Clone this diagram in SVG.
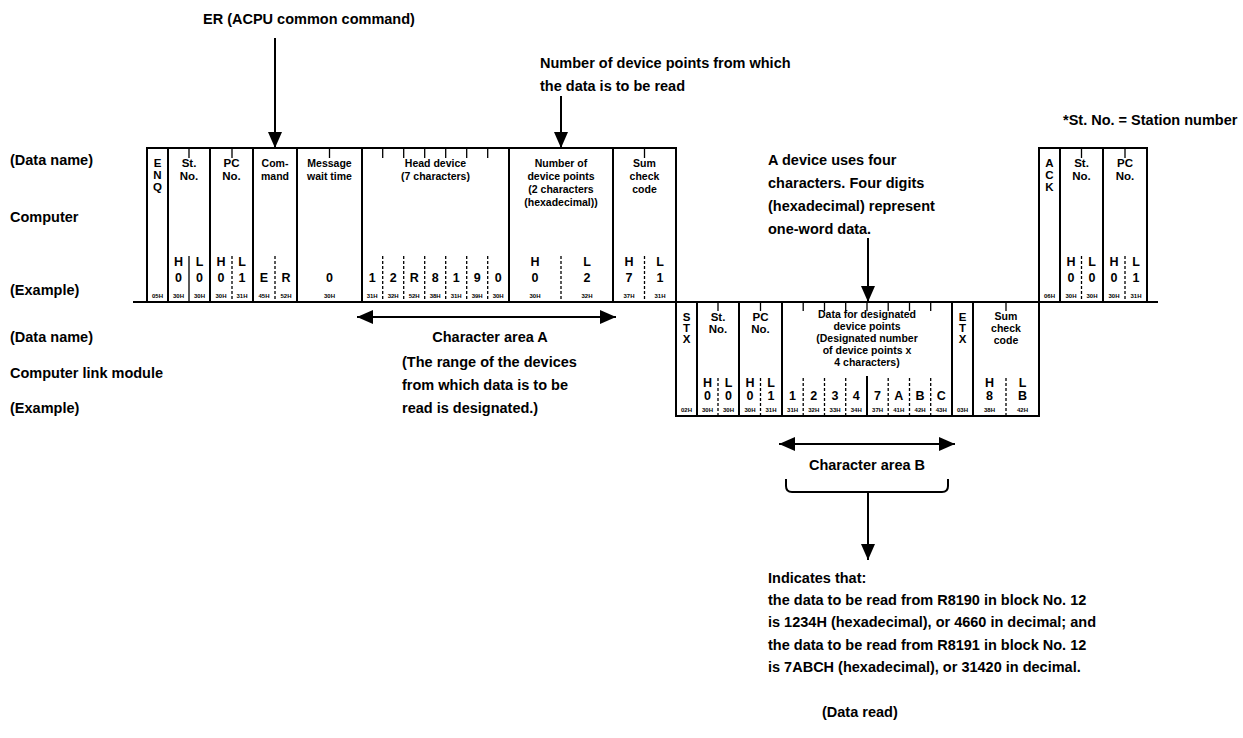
<svg xmlns="http://www.w3.org/2000/svg" width="1243" height="738" viewBox="0 0 1243 738">
<defs>
<marker id="ah" markerUnits="userSpaceOnUse" markerWidth="16" markerHeight="14" viewBox="0 0 16 14" refX="16" refY="7" orient="auto-start-reverse"><path d="M0,0 L16,7 L0,14 z" fill="#000"/></marker>
<style>
.t{font-family:"Liberation Sans",Arial,sans-serif;font-weight:bold;font-size:14.5px;fill:#000}
.h{font-family:"Liberation Sans",Arial,sans-serif;font-weight:bold;font-size:10.5px;fill:#000;text-anchor:middle}
.v{font-family:"Liberation Sans",Arial,sans-serif;font-weight:bold;font-size:11.5px;fill:#000;text-anchor:middle}
.c{font-family:"Liberation Sans",Arial,sans-serif;font-weight:bold;font-size:12.5px;fill:#000;text-anchor:middle}
.x{font-family:"Liberation Sans",Arial,sans-serif;font-weight:bold;font-size:6px;fill:#000;text-anchor:middle}
.m{text-anchor:middle}
.b{stroke:#000;stroke-width:2;fill:none}
.s{stroke:#000;stroke-width:1.3;fill:none}
.d{stroke:#000;stroke-width:1.3;stroke-dasharray:3 2;fill:none}
.a{stroke:#000;stroke-width:2;fill:none;marker-end:url(#ah)}
.a2{stroke:#000;stroke-width:2;fill:none;marker-end:url(#ah);marker-start:url(#ah)}
</style>
</defs>
<rect width="1243" height="738" fill="#fff"/>

<g id="labels">
<text class="t" x="10" y="165">(Data name)</text>
<text class="t" x="10" y="222">Computer</text>
<text class="t" x="10" y="295">(Example)</text>
<text class="t" x="10" y="342">(Data name)</text>
<text class="t" x="10" y="378">Computer link module</text>
<text class="t" x="10" y="413">(Example)</text>
<text class="t" x="203" y="24">ER (ACPU common command)</text>
<text class="t" x="540" y="68">Number of device points from which</text>
<text class="t" x="540" y="91">the data is to be read</text>
<text class="t" x="1063" y="125">*St. No. = Station number</text>
<text class="t" x="768" y="165">A device uses four</text>
<text class="t" x="768" y="188">characters.  Four digits</text>
<text class="t" x="768" y="211">(hexadecimal) represent</text>
<text class="t" x="768" y="234">one-word data.</text>
<text class="t m" x="490" y="342">Character area A</text>
<text class="t" x="402" y="367">(The range of the devices</text>
<text class="t" x="402" y="390">from which data is to be</text>
<text class="t" x="402" y="413">read is designated.)</text>
<text class="t m" x="867" y="470">Character area B</text>
<text class="t" x="768" y="583">Indicates that:</text>
<text class="t" x="768" y="605">the data to be read from R8190 in block No. 12</text>
<text class="t" x="768" y="627">is 1234H (hexadecimal), or 4660 in decimal; and</text>
<text class="t" x="768" y="650">the data to be read from R8191 in block No. 12</text>
<text class="t" x="768" y="672">is 7ABCH (hexadecimal), or 31420 in decimal.</text>
<text class="t" x="822" y="717">(Data read)</text>
</g>

<g id="computer-frame">
<path class="b" d="M147,302 V148 H676 V302 M168,148 V302 M210,148 V302 M253,148 V302 M297,148 V302 M362,148 V302 M509,148 V302 M613,148 V302"/>
<path class="s" d="M189,148 V158 M189,256 V302 M232,148 V158 M329.5,148 V158 M382.7,148 V158 M403.7,148 V158 M424.7,148 V158 M445.7,148 V158 M466.7,148 V158 M487.7,148 V158 M644.5,148 V158"/>
<path class="d" d="M232,256 V302 M275,256 V302 M382.7,256 V302 M403.7,256 V302 M424.7,256 V302 M445.7,256 V302 M466.7,256 V302 M487.7,256 V302 M561,256 V302 M644.5,256 V302"/>
<text class="v" x="157.5" y="167">E</text><text class="v" x="157.5" y="179">N</text><text class="v" x="157.5" y="191">Q</text>
<text class="v" x="189" y="167">St.</text><text class="v" x="189" y="180">No.</text>
<text class="v" x="231.5" y="167">PC</text><text class="v" x="231.5" y="180">No.</text>
<text class="h" x="275" y="167">Com-</text><text class="h" x="275" y="180">mand</text>
<text class="h" x="329.5" y="167">Message</text><text class="h" x="329.5" y="180">wait time</text>
<text class="h" x="435.5" y="167">Head device</text><text class="h" x="435.5" y="180">(7 characters)</text>
<text class="h" x="561" y="167">Number of</text><text class="h" x="561" y="180">device points</text><text class="h" x="561" y="193">(2 characters</text><text class="h" x="561" y="206">(hexadecimal))</text>
<text class="h" x="644.5" y="167">Sum</text><text class="h" x="644.5" y="180">check</text><text class="h" x="644.5" y="193">code</text>
<text class="c" x="178.5" y="266">H</text><text class="c" x="199.5" y="266">L</text>
<text class="c" x="221" y="266">H</text><text class="c" x="242" y="266">L</text>
<text class="c" x="535" y="266">H</text><text class="c" x="587" y="266">L</text>
<text class="c" x="629" y="266">H</text><text class="c" x="660" y="266">L</text>
<text class="c" x="178.5" y="282">0</text><text class="c" x="199.5" y="282">0</text>
<text class="c" x="221" y="282">0</text><text class="c" x="242" y="282">1</text>
<text class="c" x="264" y="282">E</text><text class="c" x="286" y="282">R</text>
<text class="c" x="329.5" y="282">0</text>
<text class="c" x="372.2" y="282">1</text><text class="c" x="393.2" y="282">2</text><text class="c" x="414.2" y="282">R</text><text class="c" x="435.2" y="282">8</text><text class="c" x="456.2" y="282">1</text><text class="c" x="477.2" y="282">9</text><text class="c" x="498.2" y="282">0</text>
<text class="c" x="535" y="282">0</text><text class="c" x="587" y="282">2</text>
<text class="c" x="629" y="282">7</text><text class="c" x="660" y="282">1</text>
<text class="x" x="157.5" y="298">05H</text>
<text class="x" x="178.5" y="298">30H</text><text class="x" x="199.5" y="298">30H</text>
<text class="x" x="221" y="298">30H</text><text class="x" x="242" y="298">31H</text>
<text class="x" x="264" y="298">45H</text><text class="x" x="286" y="298">52H</text>
<text class="x" x="329.5" y="298">30H</text>
<text class="x" x="372.2" y="298">31H</text><text class="x" x="393.2" y="298">32H</text><text class="x" x="414.2" y="298">52H</text><text class="x" x="435.2" y="298">38H</text><text class="x" x="456.2" y="298">31H</text><text class="x" x="477.2" y="298">39H</text><text class="x" x="498.2" y="298">30H</text>
<text class="x" x="535" y="298">30H</text><text class="x" x="587" y="298">32H</text>
<text class="x" x="629" y="298">37H</text><text class="x" x="660" y="298">31H</text>
</g>

<g id="ack-frame">
<path class="b" d="M1039,302 V148 H1147 V302 M1060,148 V302 M1103,148 V302"/>
<path class="s" d="M1081.5,148 V158 M1125,148 V158"/>
<path class="d" d="M1081.5,256 V302 M1125,256 V302"/>
<text class="v" x="1049.5" y="167">A</text><text class="v" x="1049.5" y="179">C</text><text class="v" x="1049.5" y="191">K</text>
<text class="v" x="1081.5" y="167">St.</text><text class="v" x="1081.5" y="180">No.</text>
<text class="v" x="1125" y="167">PC</text><text class="v" x="1125" y="180">No.</text>
<text class="c" x="1071" y="266">H</text><text class="c" x="1092" y="266">L</text>
<text class="c" x="1114" y="266">H</text><text class="c" x="1136" y="266">L</text>
<text class="c" x="1071" y="282">0</text><text class="c" x="1092" y="282">0</text>
<text class="c" x="1114" y="282">0</text><text class="c" x="1136" y="282">1</text>
<text class="x" x="1049.5" y="298">06H</text>
<text class="x" x="1071" y="298">30H</text><text class="x" x="1092" y="298">30H</text>
<text class="x" x="1114" y="298">30H</text><text class="x" x="1136" y="298">31H</text>
</g>

<g id="module-frame">
<path class="b" d="M676,302 V416 H1039 V302 M697,302 V416 M739,302 V416 M782,302 V416 M952,302 V416 M973,302 V416 M867,376 V416"/>
<path class="s" d="M718,302 V311 M760.5,302 V311 M803.2,302 V311 M824.5,302 V311 M845.7,302 V311 M867,302 V311 M888.2,302 V311 M909.5,302 V311 M930.7,302 V311 M1006,302 V311"/>
<path class="d" d="M718,378 V416 M760.5,378 V416 M803.2,378 V416 M824.5,378 V416 M845.7,378 V416 M888.2,378 V416 M909.5,378 V416 M930.7,378 V416 M1006,378 V416"/>
<text class="v" x="686.5" y="321">S</text><text class="v" x="686.5" y="332">T</text><text class="v" x="686.5" y="343">X</text>
<text class="v" x="718" y="321">St.</text><text class="v" x="718" y="333">No.</text>
<text class="v" x="760.5" y="321">PC</text><text class="v" x="760.5" y="333">No.</text>
<text class="h" x="867" y="318">Data for designated</text><text class="h" x="867" y="330">device points</text><text class="h" x="867" y="342">(Designated number</text><text class="h" x="867" y="354">of device points x</text><text class="h" x="867" y="366">4 characters)</text>
<text class="v" x="962.5" y="321">E</text><text class="v" x="962.5" y="332">T</text><text class="v" x="962.5" y="343">X</text>
<text class="h" x="1006" y="320">Sum</text><text class="h" x="1006" y="332">check</text><text class="h" x="1006" y="344">code</text>
<text class="c" x="707.5" y="387">H</text><text class="c" x="728.5" y="387">L</text>
<text class="c" x="750" y="387">H</text><text class="c" x="771" y="387">L</text>
<text class="c" x="989.5" y="387">H</text><text class="c" x="1022.5" y="387">L</text>
<text class="c" x="707.5" y="400">0</text><text class="c" x="728.5" y="400">0</text>
<text class="c" x="750" y="400">0</text><text class="c" x="771" y="400">1</text>
<text class="c" x="792.6" y="400">1</text><text class="c" x="813.8" y="400">2</text><text class="c" x="835.1" y="400">3</text><text class="c" x="856.3" y="400">4</text><text class="c" x="877.6" y="400">7</text><text class="c" x="898.8" y="400">A</text><text class="c" x="920.1" y="400">B</text><text class="c" x="941.3" y="400">C</text>
<text class="c" x="989.5" y="400">8</text><text class="c" x="1022.5" y="400">B</text>
<text class="x" x="686.5" y="412">02H</text>
<text class="x" x="707.5" y="412">30H</text><text class="x" x="728.5" y="412">30H</text>
<text class="x" x="750" y="412">30H</text><text class="x" x="771" y="412">31H</text>
<text class="x" x="792.6" y="412">31H</text><text class="x" x="813.8" y="412">32H</text><text class="x" x="835.1" y="412">33H</text><text class="x" x="856.3" y="412">34H</text><text class="x" x="877.6" y="412">37H</text><text class="x" x="898.8" y="412">41H</text><text class="x" x="920.1" y="412">42H</text><text class="x" x="941.3" y="412">43H</text>
<text class="x" x="962.5" y="412">03H</text>
<text class="x" x="989.5" y="412">38H</text><text class="x" x="1022.5" y="412">42H</text>
</g>

<g id="connectors">
<line class="b" x1="133" y1="302" x2="1158" y2="302"/>
<line class="a" x1="275" y1="38" x2="275" y2="148"/>
<line class="a" x1="561" y1="96" x2="561" y2="148"/>
<line class="a" x1="868" y1="238" x2="868" y2="302"/>
<line class="a2" x1="357" y1="317" x2="616" y2="317"/>
<line class="a2" x1="779" y1="444" x2="955" y2="444"/>
<path class="b" d="M786,479 V486 Q786,492 792,492 H942 Q948,492 948,486 V479"/>
<line class="a" x1="868" y1="492" x2="868" y2="560"/>
</g>
</svg>
